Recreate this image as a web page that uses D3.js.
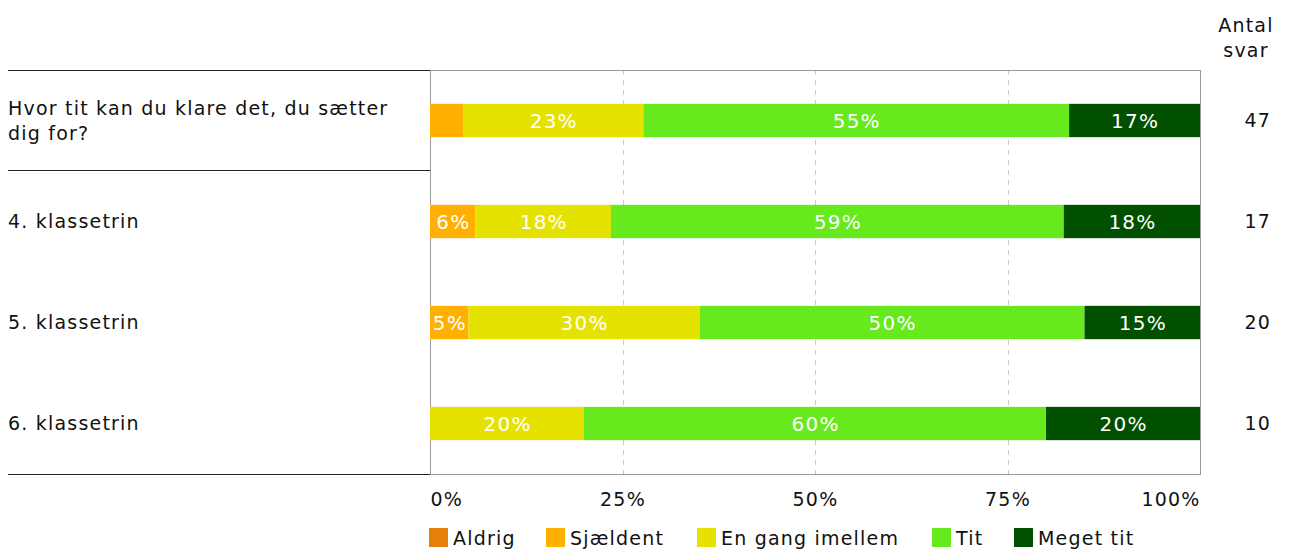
<!DOCTYPE html>
<html><head><meta charset="utf-8">
<script src="https://cdn.jsdelivr.net/npm/d3@7"></script>
<style>body{margin:0;background:#fff;} text{font-family:"DejaVu Sans",Verdana,sans-serif;}</style>
</head><body>
<svg id="c" width="1289" height="552"></svg>
<script>
const categories = ["Hvor tit kan du klare det, du sætter dig for?", "4. klassetrin", "5. klassetrin", "6. klassetrin"];
const labelLines = [["Hvor tit kan du klare det, du sætter", "dig for?"], ["4. klassetrin"], ["5. klassetrin"], ["6. klassetrin"]];
const seriesNames = ["Aldrig", "Sjældent", "En gang imellem", "Tit", "Meget tit"];
const colors = ["#E6800A", "#FFB000", "#E6E200", "#66EA1E", "#005000"];
const aldrig = [0, 0, 0, 0];
const sjaeldent = [4.3, 5.9, 5, 0];
const enGang = [23.4, 17.6, 30, 20];
const tit = [55.3, 58.8, 50, 60];
const megetTit = [17.0, 17.7, 15, 20];
const counts = [47, 17, 20, 10];
const tickValues = [0, 25, 50, 75, 100];
const tickLabels = ["0%", "25%", "50%", "75%", "100%"];

(function () {
const series = [aldrig, sjaeldent, enGang, tit, megetTit];
const svg = d3.select("#c");
const pLeft = 430, pRight = 1200, pTop = 70, pBottom = 474;
const FS = 19, LS = 1.2;
const x = d3.scaleLinear().domain([0, 100]).range([pLeft, pRight]);
const y = d3.scaleBand().domain(categories).range([pTop, pBottom]).paddingInner(0.67).paddingOuter(0.335);

function txt(sel) { return sel.attr("font-size", FS).attr("letter-spacing", LS).attr("fill", "#111"); }

// grid
svg.append("g").selectAll("line").data([25, 50, 75]).join("line")
  .attr("x1", d => Math.round(x(d)) + 0.5).attr("x2", d => Math.round(x(d)) + 0.5)
  .attr("y1", pTop).attr("y2", pBottom)
  .attr("stroke", "#c8c8c8").attr("stroke-dasharray", "5,5");

// frame
svg.append("rect").attr("x", pLeft + 0.5).attr("y", pTop + 0.5).attr("width", pRight - pLeft).attr("height", pBottom - pTop)
  .attr("fill", "none").attr("stroke", "#999");

// left separator lines
[pTop, 170, pBottom].forEach(v => {
  svg.append("line").attr("x1", 8).attr("x2", pLeft).attr("y1", v + 0.5).attr("y2", v + 0.5).attr("stroke", "#222");
});

// bars
const rows = categories.map((c, i) => {
  let acc = 0;
  return series.map((s, k) => { const v = s[i]; const seg = {cat: c, k, v, x0: acc, x1: acc + v}; acc += v; return seg; });
});
const g = svg.append("g");
rows.forEach(r => {
  g.selectAll(null).data(r.filter(d => d.v > 0)).join("rect")
    .attr("x", d => x(d.x0)).attr("width", d => x(d.x1) - x(d.x0))
    .attr("y", d => y(d.cat)).attr("height", y.bandwidth())
    .attr("fill", d => colors[d.k]);
  g.selectAll(null).data(r.filter(d => d.v >= 4.9)).join("text")
    .attr("x", d => (x(d.x0) + x(d.x1)) / 2 + 0.6).attr("y", d => y(d.cat) + y.bandwidth() / 2)
    .attr("dy", "0.36em").attr("text-anchor", "middle").attr("fill", "#fff").attr("font-size", 20).attr("letter-spacing", 1.2)
    .text(d => Math.round(d.v) + "%");
});

// category labels
categories.forEach((c, i) => {
  const lines = labelLines[i];
  const cy = y(c) + y.bandwidth() / 2;
  const lh = 25;
  lines.forEach((ln, j) => {
    txt(svg.append("text")).attr("x", 8).attr("y", cy + (j - (lines.length - 1) / 2) * lh)
      .attr("dy", "0.36em").text(ln);
  });
  txt(svg.append("text")).attr("x", 1271).attr("y", cy).attr("dy", "0.36em").attr("text-anchor", "end").text(counts[i]);
});

// header
txt(svg.append("text")).attr("x", 1246).attr("y", 25).attr("dy", "0.36em").attr("text-anchor", "middle").text("Antal");
txt(svg.append("text")).attr("x", 1246).attr("y", 50).attr("dy", "0.36em").attr("text-anchor", "middle").text("svar");

// x axis
const axis = d3.axisBottom(x).tickValues(tickValues).tickFormat((d, i) => tickLabels[i]).tickSize(0).tickPadding(19);
const ax = svg.append("g").attr("transform", `translate(0,${pBottom})`).call(axis);
ax.select(".domain").remove();
ax.selectAll("text").attr("font-size", FS).attr("letter-spacing", LS).attr("fill", "#111").attr("font-family", "DejaVu Sans, Verdana, sans-serif");
ax.selectAll(".tick text").filter(d => d === 0).attr("text-anchor", "start");
ax.selectAll(".tick text").filter(d => d === 100).attr("text-anchor", "end");

// legend
const legXs = [429, 546, 697, 932, 1014];
seriesNames.forEach((n, i) => {
  svg.append("rect").attr("x", legXs[i]).attr("y", 528).attr("width", 19).attr("height", 19).attr("fill", colors[i]);
  txt(svg.append("text")).attr("x", legXs[i] + 24).attr("y", 538).attr("dy", "0.36em").text(n);
});
})();
</script>
</body></html>
